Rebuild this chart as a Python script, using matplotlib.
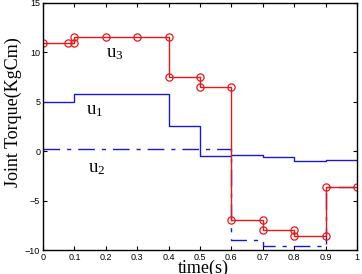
import matplotlib
matplotlib.use("Agg")
import matplotlib.pyplot as plt

plt.rcParams['mathtext.fontset'] = 'custom'
plt.rcParams['mathtext.rm'] = 'Liberation Serif'
plt.rcParams['mathtext.it'] = 'Liberation Serif:italic'

# u3 (red, markers at every corner)
t3 = [0, 0.08, 0.1, 0.1, 0.2, 0.3, 0.4, 0.4, 0.5, 0.5, 0.6, 0.6, 0.7, 0.7, 0.8, 0.8, 0.9, 0.9, 1.0]
u3 = [11, 11, 11, 11.6, 11.6, 11.6, 11.6, 7.5, 7.5, 6.5, 6.5, -7, -7, -8, -8, -8.55, -8.55, -3.6, -3.6]

# u1 (blue solid, piecewise constant)
t1 = [0, 0.1, 0.4, 0.5, 0.6, 0.7, 0.8, 0.9, 1.0]
u1 = [5.0, 5.8, 2.5, -0.5, -0.4, -0.6, -0.95, -0.85, -0.85]

# u2 (blue dash-dot, piecewise constant)
t2 = [0, 0.6, 0.7, 0.9, 1.0]
u2 = [0.2, -9.0, -9.6, -3.6, -3.6]

xticks = [0, 0.1, 0.2, 0.3, 0.4, 0.5, 0.6, 0.7, 0.8, 0.9, 1]
xticklabels = ["0", "0.1", "0.2", "0.3", "0.4", "0.5", "0.6", "0.7", "0.8", "0.9", "1"]
yticks = [-10, -5, 0, 5, 10, 15]

W, H = 362, 274
fig = plt.figure(figsize=(W / 100, H / 100), dpi=100)
ax = fig.add_axes([43 / W, 1 - 250 / H, (357 - 43) / W, (250 - 3) / H])

blue = '#1a1acc'
red = '#e61919'
ax.step(t1, u1, where='post', color=blue, lw=1.0)
ax.step(t2, u2, where='post', color=blue, lw=1.0, dashes=(12, 5, 3, 5))
ax.plot(t3, u3, '-o', color=red, lw=1.0, ms=5.2, mfc='none', mec=red, mew=0.9)

ax.set_xlim(0, 1)
ax.set_ylim(-10, 15)
ax.set_xticks(xticks)
ax.set_xticklabels(xticklabels)
ax.set_yticks(yticks)
ax.tick_params(direction='in', length=3, width=0.8, top=True, right=True,
               labelsize=6.5, pad=2)
for lab in ax.get_xticklabels() + ax.get_yticklabels():
    lab.set_fontfamily('Liberation Sans')
for s in ax.spines.values():
    s.set_linewidth(1.0)

ax.text(0.23, 10.0, r'$\mathrm{u}_3$', fontsize=13.5, ha='center', va='center')
ax.text(0.166, 4.2, r'$\mathrm{u}_1$', fontsize=13.5, ha='center', va='center')
ax.text(0.172, -1.6, r'$\mathrm{u}_2$', fontsize=13.5, ha='center', va='center')

fig.text(203 / W, 1 - 260 / H, 'time(s)', family='Liberation Serif', fontsize=13,
         ha='center', va='top')
fig.text(13 / W, 1 - 112 / H, 'Joint Torque(KgCm)', family='Liberation Serif', fontsize=13,
         ha='center', va='center', rotation=90)

fig.savefig('out.png', dpi=100)
